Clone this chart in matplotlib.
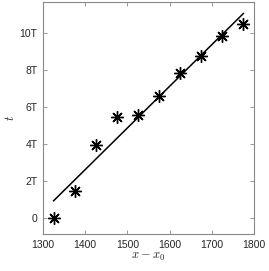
import numpy as np
import matplotlib
matplotlib.use('Agg')
import matplotlib.pyplot as plt

# data
x = [1325, 1375, 1425, 1475, 1525, 1575, 1625, 1675, 1725, 1775]
t = [0.0, 1.47, 3.95, 5.45, 5.57, 6.6, 7.87, 8.8, 9.88, 10.5]
yticks = [0, 2, 4, 6, 8, 10]
yticklabels = ['0', '2T', '4T', '6T', '8T', '10T']
xticks = [1300, 1400, 1500, 1600, 1700, 1800]

plt.rcParams['mathtext.fontset'] = 'cm'
plt.rcParams['font.family'] = ['Liberation Sans', 'DejaVu Sans']

fig = plt.figure(figsize=(2.69, 2.71), dpi=100)
ax = fig.add_axes([0.160, 0.1365, 0.784, 0.856])

# least squares line through the points
p = np.polyfit(x, t, 1)
xf = np.array([x[0], x[-1]])
ax.plot(xf, np.polyval(p, xf), color='k', lw=1.1)
ax.plot(x, t, linestyle='none', marker=(8, 2, 0), ms=9, mew=1.0, color='k')

ax.set_xlim(1300, 1800)
ax.set_ylim(-0.86, 11.7)
ax.set_xticks(xticks)
ax.set_yticks(yticks)
ax.set_yticklabels(yticklabels)
ax.tick_params(direction='in', length=3, width=0.6, colors='#888888',
               labelcolor='#262626', labelsize=7.5, top=True, right=True, pad=4)
for s in ax.spines.values():
    s.set_color('#888888')
    s.set_linewidth(0.8)

ax.set_xlabel('$x - x_0$', fontsize=9, color='#262626', labelpad=1)
ax.set_ylabel('$t$', fontsize=9, color='#262626', labelpad=2)

fig.savefig('out.png', dpi=100)
